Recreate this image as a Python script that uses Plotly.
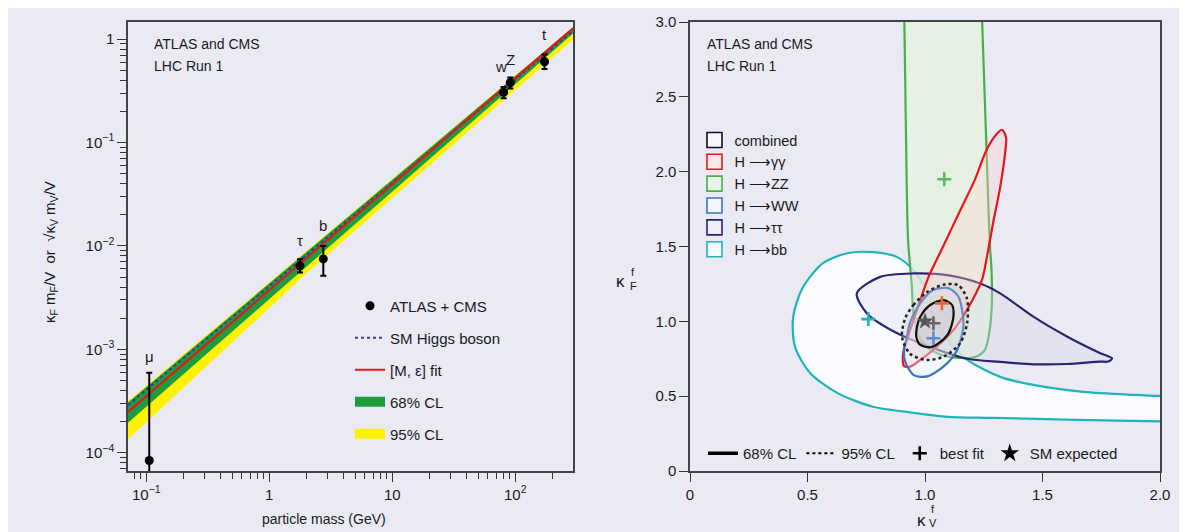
import math
import plotly.graph_objects as go

FONT = "Liberation Sans, Arial, Helvetica, sans-serif"
BG = "#eaeaf5"
OFF = 8                      # page (body) offset of the figure in the window
W, H = 1187 - OFF, 532 - OFF

# ---------------- left panel data ----------------
particles = ["μ", "τ", "b", "w", "Z", "t"]
particle_mass = [0.1057, 1.777, 2.75, 80.4, 91.2, 173.0]
coupling = [8.4e-5, 6.41e-3, 7.48e-3, 0.305, 0.380, 0.603]
coupling_up = [5.94e-4, 7.43e-3, 1.00e-2, 0.343, 0.426, 0.711]
coupling_down = [1e-9, 5.52e-3, 5.13e-3, 0.268, 0.333, 0.513]
label_shift = [6, 8, 10, 10, 7, 9]

line_mass = [0.071, 295.0]
sm_higgs = [2.89e-4, 1.20]
me_fit = [2.48e-4, 1.27]

band_mass = [0.071, 2.0, 295.0]
cl68_low = [1.95e-4, 6.3e-3, 1.13]
cl68_high = [3.05e-4, 8.7e-3, 1.30]
cl95_low = [1.35e-4, 5.4e-3, 0.99]
cl95_high = [3.16e-4, 8.9e-3, 1.31]

# ---------------- right panel data (kappa_V, kappa_F) ----------------
bb_kv = [2.2, 2.0, 1.887, 1.674, 1.461, 1.320, 1.180, 1.107, 1.035, 1.022, 0.950, 0.882, 0.779,
         0.669, 0.566, 0.481, 0.439, 0.447, 0.511, 0.626, 0.779, 0.950, 1.095, 1.290, 2.0, 2.2]
bb_kf = [0.50, 0.502, 0.509, 0.529, 0.575, 0.629, 0.742, 0.855, 1.030, 1.162, 1.342, 1.429, 1.462,
         1.455, 1.389, 1.229, 1.029, 0.829, 0.655, 0.522, 0.429, 0.389, 0.362, 0.355, 0.331, 0.33]

zz_kv = [0.911, 0.916, 0.920, 0.928, 0.944, 0.948, 0.957, 0.975, 1.015, 1.080, 1.150, 1.210,
         1.255, 1.275, 1.285, 1.283, 1.275, 1.262, 1.241]
zz_kf = [3.10, 2.60, 2.142, 1.542, 1.230, 1.100, 1.000, 0.900, 0.820, 0.770, 0.755, 0.760,
         0.810, 0.940, 1.140, 1.340, 1.540, 2.140, 3.10]

tautau_kv = [0.710, 0.809, 0.950, 1.095, 1.235, 1.320, 1.461, 1.606, 1.746, 1.796, 1.780, 1.746,
             1.606, 1.461, 1.320, 1.180, 1.022, 0.882, 0.753]
tautau_kf = [1.187, 1.297, 1.320, 1.309, 1.253, 1.187, 1.031, 0.897, 0.787, 0.753, 0.731, 0.731,
             0.715, 0.713, 0.729, 0.750, 0.829, 0.920, 1.053]

gamgam_kv = [1.328, 1.345, 1.342, 1.320, 1.292, 1.266, 1.242, 1.178, 1.121, 1.051, 0.980, 0.937,
             0.911, 0.907, 0.937, 0.980, 1.015, 1.076, 1.150, 1.211, 1.261, 1.306]
gamgam_kf = [2.280, 2.229, 2.142, 1.897, 1.675, 1.453, 1.275, 1.075, 0.942, 0.831, 0.742, 0.697,
             0.702, 0.789, 0.942, 1.142, 1.297, 1.497, 1.742, 1.942, 2.142, 2.253]

ww_kv = [0.920, 0.937, 0.980, 1.035, 1.099, 1.141, 1.158, 1.163, 1.137, 1.082, 1.009, 0.954, 0.916, 0.911]
ww_kf = [0.875, 0.995, 1.122, 1.209, 1.222, 1.169, 1.075, 0.962, 0.809, 0.702, 0.632, 0.639, 0.729, 0.809]

comb95_kv = [0.916, 0.951, 1.008, 1.079, 1.141, 1.178, 1.180, 1.150, 1.079, 1.008, 0.937, 0.902]
comb95_kf = [1.022, 1.109, 1.195, 1.245, 1.242, 1.155, 0.995, 0.855, 0.764, 0.742, 0.782, 0.895]

comb68_kv = [0.966, 0.980, 1.022, 1.079, 1.115, 1.121, 1.100, 1.057, 1.022, 0.980, 0.963]
comb68_kf = [0.964, 1.031, 1.109, 1.142, 1.109, 1.031, 0.920, 0.853, 0.827, 0.842, 0.897]

best_fit_names = ["H→ZZ", "H→γγ", "H→WW", "H→bb", "combined"]
best_fit_kv = [1.082, 1.072, 1.036, 0.759, 1.036]
best_fit_kf = [1.949, 1.120, 0.887, 1.015, 0.987]
sm_expected_kv = [1.0]
sm_expected_kf = [1.0]

legend_labels = ["combined", "H ⟶γγ", "H ⟶ZZ", "H ⟶WW", "H ⟶ττ", "H ⟶bb"]

# ---------------- styles ----------------
GREEN = "#1f9b3f"
YELLOW = "#fff200"
style = {
    "combined": dict(edge="#111111", face="rgba(195,195,200,0.35)", box="#f6f7fa"),
    "H ⟶γγ": dict(edge="#e8141e", face="rgba(255,210,205,0.35)", box="#fde9e6"),
    "H ⟶ZZ": dict(edge="#47ae4c", face="rgba(228,243,220,0.75)", box="#eaf4e4"),
    "H ⟶WW": dict(edge="#3d72c0", face="rgba(225,236,250,0.35)", box="#f3f7fd"),
    "H ⟶ττ": dict(edge="#2d2470", face="rgba(215,215,232,0.35)", box="#eeeef5"),
    "H ⟶bb": dict(edge="#1fb3bb", face="rgba(251,253,255,0.92)", box="#f3fbfc"),
}
fit_colors = ["#5cb85c", "#e8643c", "#5a8fd6", "#22b3bb", "#666666"]


def closed(a):
    return list(a) + [a[0]]


fig = go.Figure()

# ---- left panel ----
fig.add_trace(go.Scatter(x=band_mass + band_mass[::-1], y=cl95_high + cl95_low[::-1],
                         mode="lines", fill="toself", fillcolor=YELLOW, line=dict(width=0),
                         showlegend=False, hoverinfo="skip"))
fig.add_trace(go.Scatter(x=band_mass + band_mass[::-1], y=cl68_high + cl68_low[::-1],
                         mode="lines", fill="toself", fillcolor=GREEN, line=dict(width=0),
                         showlegend=False, hoverinfo="skip"))
fig.add_trace(go.Scatter(x=line_mass, y=sm_higgs, mode="lines", name="SM Higgs boson",
                         line=dict(color="#3a3a9c", width=2, dash="dot"),
                         legendgroup="g2", legendrank=2))
fig.add_trace(go.Scatter(x=line_mass, y=me_fit, mode="lines", name="[M, ε] fit",
                         line=dict(color="#e8141e", width=2), legendgroup="g3", legendrank=3))
fig.add_trace(go.Scatter(
    x=particle_mass, y=coupling, mode="markers", name="ATLAS + CMS",
    marker=dict(color="black", size=9),
    error_y=dict(type="data", symmetric=False,
                 array=[u - v for u, v in zip(coupling_up, coupling)],
                 arrayminus=[v - d for v, d in zip(coupling, coupling_down)],
                 color="black", thickness=2, width=3),
    legendgroup="g1", legendrank=1))
fig.add_trace(go.Scatter(x=[None], y=[None], mode="lines", name="68% CL",
                         line=dict(color=GREEN, width=10), legendgroup="g4", legendrank=4))
fig.add_trace(go.Scatter(x=[None], y=[None], mode="lines", name="95% CL",
                         line=dict(color=YELLOW, width=10), legendgroup="g5", legendrank=5))

# ---- right panel contours ----
contours = [
    ("H ⟶bb", bb_kv, bb_kf, False),
    ("H ⟶ZZ", zz_kv, zz_kf, False),
    ("H ⟶ττ", tautau_kv, tautau_kf, True),
    ("H ⟶γγ", gamgam_kv, gamgam_kf, True),
    ("H ⟶WW", ww_kv, ww_kf, True),
]
for name, kv, kf, close in contours:
    s = style[name]
    fig.add_trace(go.Scatter(
        x=closed(kv) if close else kv, y=closed(kf) if close else kf,
        mode="lines", fill="toself", fillcolor=s["face"],
        line=dict(color=s["edge"], width=2.2, shape="spline", smoothing=0.8),
        xaxis="x2", yaxis="y2", showlegend=False, hoverinfo="skip"))

fig.add_trace(go.Scatter(
    x=closed(comb95_kv), y=closed(comb95_kf), mode="lines", fill="toself",
    fillcolor="rgba(205,205,210,0.3)",
    line=dict(color="#222222", width=2.5, dash="dot", shape="spline", smoothing=0.8),
    xaxis="x2", yaxis="y2", showlegend=False, hoverinfo="skip"))
fig.add_trace(go.Scatter(
    x=closed(comb68_kv), y=closed(comb68_kf), mode="lines", fill="toself",
    fillcolor=style["combined"]["face"],
    line=dict(color="#111111", width=2.2, shape="spline", smoothing=0.8),
    xaxis="x2", yaxis="y2", showlegend=False, hoverinfo="skip"))

fig.add_trace(go.Scatter(
    x=sm_expected_kv, y=sm_expected_kf, mode="markers",
    marker=dict(symbol="star", size=13, color="#555555"),
    xaxis="x2", yaxis="y2", showlegend=False, hoverinfo="skip"))
fig.add_trace(go.Scatter(
    x=best_fit_kv, y=best_fit_kf, mode="markers", text=best_fit_names,
    marker=dict(symbol="cross-thin", size=10, line=dict(width=2.6, color=fit_colors)),
    xaxis="x2", yaxis="y2", showlegend=False, hoverinfo="skip"))

# legend proxies (right panel)
for lab in legend_labels:
    s = style[lab]
    fig.add_trace(go.Scatter(
        x=[None], y=[None], mode="markers", name=lab,
        marker=dict(symbol="square", size=15, color=s["box"], line=dict(color=s["edge"], width=1.6)),
        xaxis="x2", yaxis="y2", legend="legend2"))

fig.add_trace(go.Scatter(x=[None], y=[None], mode="lines", name="68% CL",
                         line=dict(color="black", width=3.5), xaxis="x2", yaxis="y2", legend="legend3"))
fig.add_trace(go.Scatter(x=[None], y=[None], mode="lines", name="95% CL",
                         line=dict(color="black", width=2, dash="dot"), xaxis="x2", yaxis="y2",
                         legend="legend3"))
fig.add_trace(go.Scatter(x=[None], y=[None], mode="markers", name="best fit",
                         marker=dict(symbol="cross-thin", size=10, line=dict(width=2.6, color="black")),
                         xaxis="x2", yaxis="y2", legend="legend3"))
fig.add_trace(go.Scatter(x=[None], y=[None], mode="markers", name="SM expected",
                         marker=dict(symbol="star", size=14, color="black"),
                         xaxis="x2", yaxis="y2", legend="legend3"))


# ---------------- axes ----------------
def px_x(p):
    return (p - OFF) / W


def px_y(p):
    return 1 - (p - OFF) / H


minor_log = [k * 10 ** e for e in range(-5, 3) for k in range(2, 10)]
axis_common = dict(showgrid=False, zeroline=False, showline=True, mirror=True,
                   linecolor="#444444", linewidth=1.5, ticks="outside", ticklen=9,
                   tickwidth=1.3, tickcolor="#333333", automargin=False,
                   tickfont=dict(family=FONT, size=15, color="#1a1a1a"))

fig.update_layout(
    xaxis=dict(type="log", domain=[px_x(128), px_x(573)],
               range=[math.log10(0.071), math.log10(295)], anchor="y",
               tickmode="array", tickvals=[0.1, 1, 10, 100],
               ticktext=["10<sup>−1</sup>", "1", "10", "10<sup>2</sup>"],
               minor=dict(ticks="outside", ticklen=6, tickcolor="#333333", tickvals=minor_log),
               **axis_common),
    yaxis=dict(type="log", domain=[px_y(471), px_y(22)], range=[-4.177, 0.165], anchor="x",
               tickmode="array", tickvals=[1e-4, 1e-3, 1e-2, 1e-1, 1],
               ticktext=["10<sup>−4</sup>", "10<sup>−3</sup>", "10<sup>−2</sup>", "10<sup>−1</sup>", "1"],
               minor=dict(ticks="outside", ticklen=6, tickcolor="#333333", tickvals=minor_log),
               **axis_common),
    xaxis2=dict(domain=[px_x(690), px_x(1160)], range=[0, 2], anchor="y2",
                tickmode="array", tickvals=[0, 0.5, 1.0, 1.5, 2.0],
                ticktext=["0", "0.5", "1.0", "1.5", "2.0"], **axis_common),
    yaxis2=dict(domain=[px_y(471), px_y(22)], range=[0, 3], anchor="x2",
                tickmode="array", tickvals=[0, 0.5, 1.0, 1.5, 2.0, 2.5, 3.0],
                ticktext=["0", "0.5", "1.0", "1.5", "2.0", "2.5", "3.0"], **axis_common),
)

legend_font = dict(family=FONT, size=15, color="#1a1a1a")
fig.update_layout(
    width=W, height=H, autosize=False,
    margin=dict(l=0, r=0, t=0, b=0, pad=0, autoexpand=False),
    paper_bgcolor=BG, plot_bgcolor=BG,
    font=dict(family=FONT, size=15, color="#1a1a1a"),
    hovermode=False,
    legend=dict(x=px_x(350), y=px_y(289.5), xanchor="left", yanchor="top",
                bgcolor="rgba(0,0,0,0)", font=legend_font, tracegroupgap=9.5,
                traceorder="grouped"),
    legend2=dict(x=px_x(694.5), y=px_y(124), xanchor="left", yanchor="top",
                 bgcolor="rgba(0,0,0,0)", font=dict(family=FONT, size=14.5, color="#1a1a1a")),
    legend3=dict(x=px_x(703), y=px_y(437), xanchor="left", yanchor="top", orientation="h",
                 bgcolor="rgba(0,0,0,0)", font=legend_font),
)

ann = []
for xpx in (152, 705):
    ann.append(dict(x=px_x(xpx), y=px_y(44), xref="paper", yref="paper", text="ATLAS and CMS",
                    showarrow=False, xanchor="left", yanchor="middle", font=dict(size=14)))
    ann.append(dict(x=px_x(xpx), y=px_y(66), xref="paper", yref="paper", text="LHC Run 1",
                    showarrow=False, xanchor="left", yanchor="middle", font=dict(size=14)))
for name, m, up, sh in zip(particles, particle_mass, coupling_up, label_shift):
    ann.append(dict(x=math.log10(m), y=math.log10(up), xref="x", yref="y", text=name,
                    showarrow=False, xanchor="center", yanchor="bottom", yshift=sh,
                    xshift=-3 if name == "w" else 0, font=dict(size=15)))
ann.append(dict(x=px_x(324), y=px_y(519), xref="paper", yref="paper", text="particle mass (GeV)",
                showarrow=False, xanchor="center", yanchor="middle", font=dict(size=14)))
ann.append(dict(x=px_x(50), y=px_y(252), xref="paper", yref="paper", textangle=-90,
                text="κ<sub>F</sub> m<sub>F</sub>/V  or  √κ<sub>V</sub> m<sub>V</sub>/V",
                showarrow=False, xanchor="center", yanchor="middle", font=dict(size=15)))
# kappa labels of right panel
for (kx, ky, supx, supy, subx, suby, sub) in [(620, 281, 633, 272, 633, 286, "F"),
                                              (921, 520, 933, 509, 933, 523, "V")]:
    ann.append(dict(x=px_x(kx), y=px_y(ky), xref="paper", yref="paper", text="κ",
                    showarrow=False, xanchor="center", yanchor="middle", font=dict(size=17)))
    ann.append(dict(x=px_x(supx), y=px_y(supy), xref="paper", yref="paper", text="f",
                    showarrow=False, xanchor="center", yanchor="middle", font=dict(size=11)))
    ann.append(dict(x=px_x(subx), y=px_y(suby), xref="paper", yref="paper", text=sub,
                    showarrow=False, xanchor="center", yanchor="middle", font=dict(size=11)))
fig.update_layout(annotations=ann)

fig.write_html("out.html")
